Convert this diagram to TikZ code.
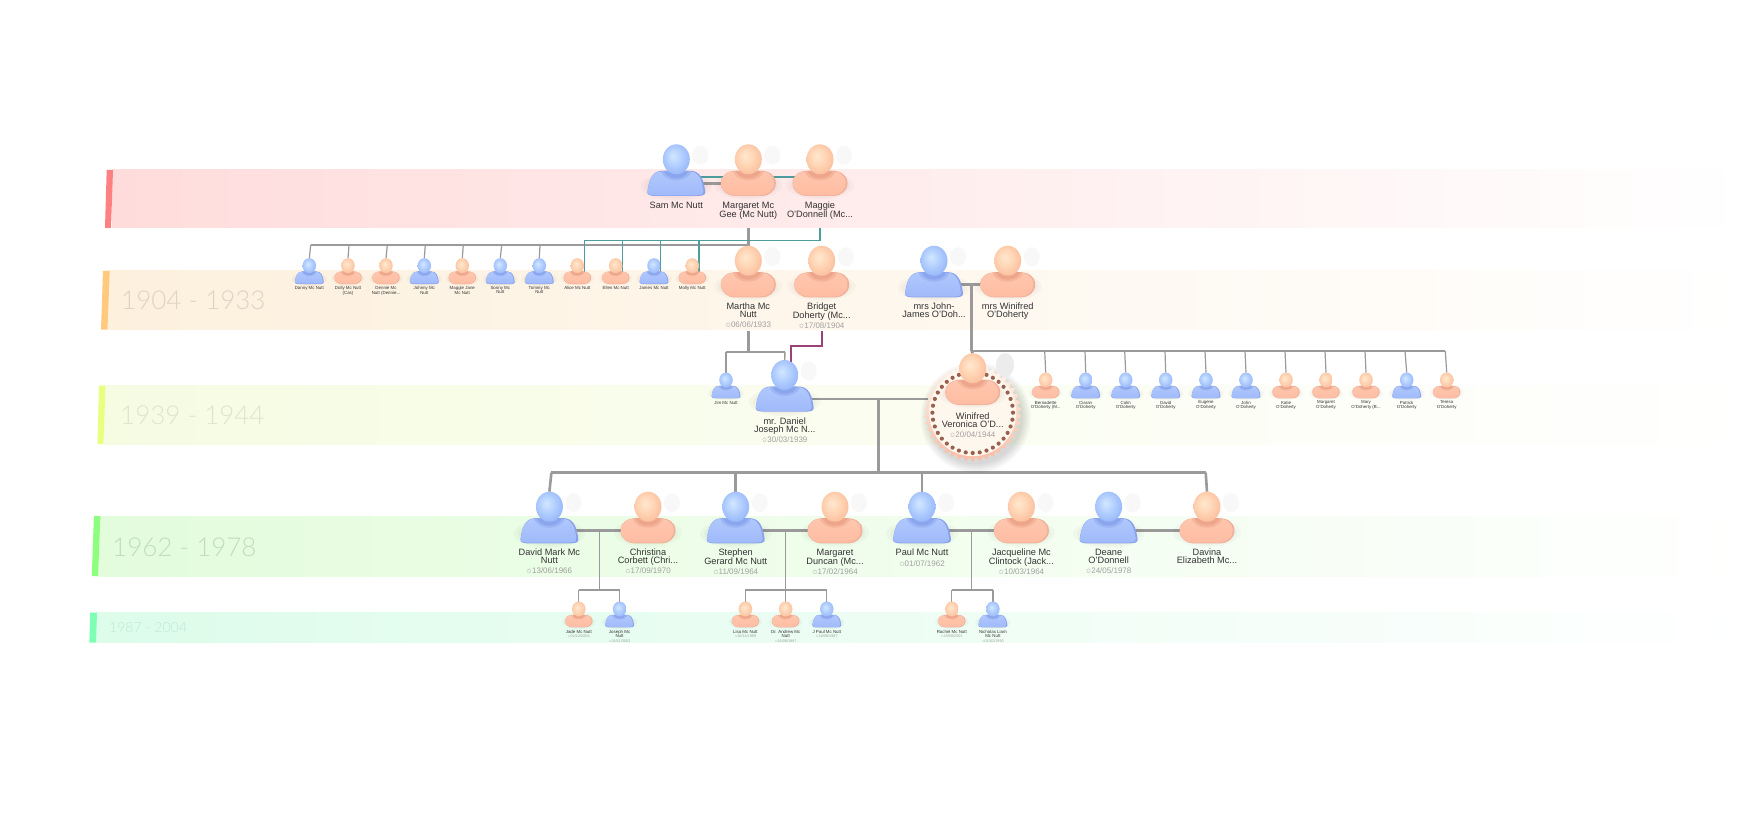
\documentclass[tikz,border=0pt]{standalone}
\usepackage{fontspec}
\usetikzlibrary{shapes.geometric}
\setmainfont{Liberation Sans}
\newfontfamily\symfont{DejaVu Sans}
\newfontfamily\yearfont[UprightFont=* Light]{Lato}
\definecolor{mhin}{HTML}{D2E7FF}\definecolor{mhmid}{HTML}{B4D0FF}\definecolor{mhout}{HTML}{95B5FA}
\definecolor{fhin}{HTML}{FFE8CF}\definecolor{fhmid}{HTML}{FFD6B6}\definecolor{fhout}{HTML}{FBBD9C}
\definecolor{mbdark}{HTML}{8AA2EC}\definecolor{mbtop}{HTML}{B0C8FD}\definecolor{mbbot}{HTML}{A0BAFB}\definecolor{mneck}{HTML}{8CA6EE}
\definecolor{fbdark}{HTML}{F0B099}\definecolor{fbtop}{HTML}{FFC6AE}\definecolor{fbbot}{HTML}{FFBDA3}\definecolor{fneck}{HTML}{EDA68B}
\definecolor{conn}{HTML}{9A9A9A}\definecolor{tealc}{HTML}{4F9C9C}\definecolor{purp}{HTML}{984277}
\definecolor{nametext}{HTML}{333333}\definecolor{datetext}{HTML}{A0A0A0}\definecolor{ghost}{HTML}{F8F8F8}
\definecolor{dotc}{HTML}{98604F}\definecolor{cream}{HTML}{FEF7EE}\definecolor{peach}{HTML}{FBBBA2}
\pgfdeclareradialshading{headm}{\pgfpoint{-6bp}{6bp}}{color(0bp)=(mhin);color(14bp)=(mhmid);color(30bp)=(mhout);color(50bp)=(mhout)}
\pgfdeclareradialshading{headf}{\pgfpoint{-6bp}{6bp}}{color(0bp)=(fhin);color(14bp)=(fhmid);color(30bp)=(fhout);color(50bp)=(fhout)}
\pgfdeclarelayer{bands}\pgfdeclarelayer{links}
\pgfsetlayers{bands,links,main}
\newcommand\bodym{(-29,33) .. controls (-27.5,20) and (-24,11.5) .. (-14,11.5) -- (14,11.5) .. controls (24,11.5) and (27.5,20) .. (29,33) .. controls (29,36) and (25,36.7) .. (22,36.7) -- (-22,36.7) .. controls (-25,36.7) and (-29,36) .. (-29,33) -- cycle}
\newcommand\bodyf{(-27.5,24) .. controls (-27.5,15) and (-20,11.5) .. (-12,11.5) -- (12,11.5) .. controls (20,11.5) and (27.5,15) .. (27.5,24) .. controls (27.5,32) and (20,36.7) .. (14,36.7) -- (-14,36.7) .. controls (-20,36.7) and (-27.5,32) .. (-27.5,24) -- cycle}
\newcommand\malefig{%
  \fill[black,opacity=.025] (0,27) ellipse [x radius=36,y radius=14];
  \fill[black,opacity=.025] (0,27) ellipse [x radius=32,y radius=12];
  \fill[mbdark] \bodym;
  \begin{scope}[shift={(-.8,1.1)},xscale=.96,yscale=.95]
    \shade[top color=mbtop,bottom color=mbbot] \bodym;
  \end{scope}
  \begin{scope}
    \clip \bodym;
    \fill[mneck,opacity=.5] (0,9) ellipse [x radius=16,y radius=12];
    \fill[mneck] (0,9) ellipse [x radius=13,y radius=10];
  \end{scope}
  \shade[shading=headm] (0,0) ellipse [x radius=13.5,y radius=15];
}
\newcommand\femalefig{%
  \fill[black,opacity=.025] (0,26) ellipse [x radius=34,y radius=14];
  \fill[black,opacity=.025] (0,26) ellipse [x radius=30,y radius=12];
  \fill[fbdark] \bodyf;
  \begin{scope}[shift={(-.7,1.1)},xscale=.96,yscale=.95]
    \shade[top color=fbtop,bottom color=fbbot] \bodyf;
  \end{scope}
  \begin{scope}
    \clip \bodyf;
    \fill[fneck,opacity=.5] (0,9) ellipse [x radius=16,y radius=12];
    \fill[fneck] (0,9) ellipse [x radius=13,y radius=10];
  \end{scope}
  \shade[shading=headf] (0,0) ellipse [x radius=13.5,y radius=15];
}
% name, x, y, scale, figure
\newcommand\drawperson[5]{%
  \coordinate (#1) at (#2,#3);
  \coordinate (#1-t) at (#2,{#3-15*#4});
  \coordinate (#1-c) at (#2,{#3+24*#4});
  \begin{scope}[shift={(#2,#3)},x=#4pt,y=-#4pt]
    #5
  \end{scope}
}
\newcommand\BP[6]{% name x y figure text offset
  \fill[ghost] ({#2+24},{#3-4}) ellipse [x radius=8,y radius=9.5];
  \drawperson{#1}{#2}{#3}{1}{#4}
  \node[biglab] (#1-lab) at (#2,{#3+#6}) {#5};
}
\newcommand\SP[5]{% name x y figure text
  \drawperson{#1}{#2}{#3}{.5}{#4}
  \node[smlab] (#1-lab) at (#2,{#3+20.7}) {#5};
}
\newcommand\dateline[1]{{\fontsize{8}{8.5}\selectfont\color{datetext}{\symfont\fontsize{6.5}{8.5}\selectfont ✩}#1}}
\newcommand\sdateline[1]{{\fontsize{3.8}{4.3}\selectfont\color{datetext}{\symfont\fontsize{3.2}{4.3}\selectfont ✩}#1}}
\tikzset{
  biglab/.style={anchor=north,inner sep=0pt,align=center,text=nametext,font=\fontsize{9.2}{8.5}\selectfont},
  smlab/.style={anchor=north,inner sep=0pt,align=center,text=nametext,font=\fontsize{4.4}{4.3}\selectfont},
  gthick/.style={draw=conn,line width=2.6pt},
  gthin/.style={draw=conn,line width=1.2pt},
  teal2/.style={draw=tealc,line width=2pt},
  teal1/.style={draw=tealc,line width=1.2pt},
  purp2/.style={draw=purp,line width=2.4pt},
  yearlab/.style={inner sep=0pt,anchor=west}
}
\begin{document}
\begin{tikzpicture}[x=1pt,y=-1pt]
\useasboundingbox (0,0) rectangle (1748,834);
\begin{pgfonlayer}{bands}
  \fill[white] (0,0) rectangle (1748,834);
  \shade[left color={rgb,255:red,255;green,220;blue,220},right color=white] (112,170) rectangle (1748,228);
  \fill[color={rgb,255:red,255;green,128;blue,128}] (106.7,170) -- (113,170) -- (111,228) -- (105,228) -- cycle;
  \shade[left color={rgb,255:red,253;green,240;blue,221},right color=white] (108,271) rectangle (1748,329.5);
  \fill[color={rgb,255:red,255;green,201;blue,126}] (103,271) -- (109.7,271) -- (107.5,329.5) -- (101,329.5) -- cycle;
  \shade[left color={rgb,255:red,246;green,252;blue,226},right color=white] (104,385.5) rectangle (1748,444);
  \fill[color={rgb,255:red,232;green,255;blue,128}] (99,385.5) -- (105.5,385.5) -- (103.5,444) -- (97.5,444) -- cycle;
  \shade[left color={rgb,255:red,227;green,252;blue,220},right color=white] (98,516) rectangle (1748,576);
  \fill[color={rgb,255:red,141;green,255;blue,126}] (93.9,516) -- (100.4,516) -- (98,576) -- (91.8,576) -- cycle;
  \shade[left color={rgb,255:red,221;green,252;blue,234},right color=white] (96,612.5) rectangle (1748,642.5);
  \fill[color={rgb,255:red,125;green,255;blue,180}] (90.2,612.5) -- (97,612.5) -- (96,642.5) -- (89.4,642.5) -- cycle;
\end{pgfonlayer}
\node[yearlab,text={rgb,255:red,222;green,212;blue,195}] (y1904) at (121,300.7) {\yearfont\fontsize{26}{26}\selectfont 1904 - 1933};
\node[yearlab,text={rgb,255:red,224;green,228;blue,205}] (y1939) at (120,415) {\yearfont\fontsize{26}{26}\selectfont 1939 - 1944};
\node[yearlab,text={rgb,255:red,195;green,221;blue,187}] (y1962) at (112,547) {\yearfont\fontsize{26}{26}\selectfont 1962 - 1978};
\node[yearlab,text={rgb,255:red,192;green,232;blue,212}] (y1987) at (109,627.7) {\yearfont\fontsize{14}{14}\selectfont 1987 - 2004};
% Row 1
\BP{sam}{676.3}{159.3}{\malefig}{Sam Mc Nutt}{42.2}
\BP{mgee}{748.3}{159.3}{\femalefig}{Margaret Mc\\Gee (Mc Nutt)}{42.2}
\BP{maggie}{820}{159.3}{\femalefig}{Maggie\\O'Donnell (Mc...}{42.2}
% Row 2 small
\SP{k1}{309.3}{265.7}{\malefig}{Danny Mc Nutt}
\SP{k2}{348}{265.7}{\femalefig}{Dolly Mc Nutt\\(Cas)}
\SP{k3}{386}{265.7}{\femalefig}{Dennie Mc\\Nutt (Dennie...}
\SP{k4}{424.3}{265.7}{\malefig}{Johnny Mc\\Nutt}
\SP{k5}{462.3}{265.7}{\femalefig}{Maggie Jane\\Mc Nutt}
\SP{k6}{500.3}{265.7}{\malefig}{Sonny Mc\\Nutt}
\SP{k7}{539.3}{265.7}{\malefig}{Tommy Mc\\Nutt}
\SP{k8}{577.3}{265.7}{\femalefig}{Alice Mc Nutt}
\SP{k9}{615.7}{265.7}{\femalefig}{Ellen Mc Nutt}
\SP{k10}{654}{265.7}{\malefig}{James Mc Nutt}
\SP{k11}{692.3}{265.7}{\femalefig}{Molly Mc Nutt}
% Row 2 big
\BP{martha}{748.3}{260.7}{\femalefig}{Martha Mc\\Nutt\\[1.5pt]\dateline{06/06/1933}}{41.8}
\BP{bridget}{821.7}{260.7}{\femalefig}{Bridget\\Doherty (Mc...\\[1.5pt]\dateline{17/08/1904}}{41.8}
\BP{john}{934}{260.7}{\malefig}{mrs John-\\James O'Doh...}{41.8}
\BP{winif}{1007.7}{260.7}{\femalefig}{mrs Winifred\\O'Doherty}{41.8}
% Row 3
\SP{jim}{726}{380}{\malefig}{Jim Mc Nutt}
\BP{daniel}{784.7}{375}{\malefig}{mr. Daniel\\Joseph Mc N...\\[1.5pt]\dateline{30/03/1939}}{42.2}
% Winifred badge
\foreach \r in {47,49,51,53,55}{\fill[black,opacity=.03] (975.7,417.7) circle [radius=\r];}
\node[star,star points=42,star point ratio=1.1,minimum size=98pt,inner sep=0pt,top color=cream,bottom color=peach,draw=none] (badge) at (972.7,412.7) {};
\fill[cream] (badge.center) circle [radius=43.5];
\foreach \a in {0,10,...,350}{\fill[dotc] (badge.center) ++(\a:40.3) circle [radius=2.1];}
\fill[ghost!90!gray] (1005,365) ellipse [x radius=9,y radius=12];
\drawperson{winv}{972.7}{368.3}{1}{\femalefig}
\node[biglab] (winv-lab) at (972.7,412.2) {Winifred\\Veronica O'D...\\[1.5pt]\dateline{20/04/1944}};
% O'Doherty children
\SP{d1}{1045.7}{380}{\femalefig}{Bernadette\\O'Doherty (M...}
\SP{d2}{1085.7}{380}{\malefig}{Ciaran\\O'Doherty}
\SP{d3}{1125.7}{380}{\malefig}{Colm\\O'Doherty}
\SP{d4}{1165.7}{380}{\malefig}{David\\O'Doherty}
\SP{d5}{1206}{380}{\malefig}{Eugene\\O'Doherty}
\SP{d6}{1246}{380}{\malefig}{John\\O'Doherty}
\SP{d7}{1286}{380}{\femalefig}{Katie\\O'Doherty}
\SP{d8}{1326}{380}{\femalefig}{Margaret\\O'Doherty}
\SP{d9}{1366}{380}{\femalefig}{Mary\\O'Doherty (B...}
\SP{d10}{1406.7}{380}{\malefig}{Patrick\\O'Doherty}
\SP{d11}{1446.7}{380}{\femalefig}{Teresa\\O'Doherty}
% Row 4
\BP{david}{549.4}{506.7}{\malefig}{David Mark Mc\\Nutt\\[1.5pt]\dateline{13/06/1966}}{41.8}
\BP{christina}{648}{506.7}{\femalefig}{Christina\\Corbett (Chri...\\[1.5pt]\dateline{17/09/1970}}{41.8}
\BP{stephen}{735.7}{506.7}{\malefig}{Stephen\\Gerard Mc Nutt\\[1.5pt]\dateline{11/09/1964}}{41.8}
\BP{mduncan}{835}{506.7}{\femalefig}{Margaret\\Duncan (Mc...\\[1.5pt]\dateline{17/02/1964}}{41.8}
\BP{paul}{922}{506.7}{\malefig}{Paul Mc Nutt\\[2.5pt]\dateline{01/07/1962}}{41.8}
\BP{jacq}{1021.4}{506.7}{\femalefig}{Jacqueline Mc\\Clintock (Jack...\\[1.5pt]\dateline{10/03/1964}}{41.8}
\BP{deane}{1108.6}{506.7}{\malefig}{Deane\\O'Donnell\\[1.5pt]\dateline{24/05/1978}}{41.8}
\BP{davina}{1207}{506.7}{\femalefig}{Davina\\Elizabeth Mc...}{41.8}
% Row 5
\SP{jade}{578.8}{609}{\femalefig}{Jade Mc Nutt\\[.5pt]\sdateline{01/12/2004}}
\SP{joseph}{619.6}{609}{\malefig}{Joseph Mc\\Nutt\\[.5pt]\sdateline{24/11/2003}}
\SP{lisa}{745.4}{609}{\femalefig}{Lisa Mc Nutt\\[.5pt]\sdateline{20/11/1989}}
\SP{andrew}{785.7}{609}{\femalefig}{Dr. Andrew Mc\\Nutt\\[.5pt]\sdateline{16/08/1987}}
\SP{jpaul}{826.8}{609}{\malefig}{J Paul Mc Nutt\\[.5pt]\sdateline{16/08/1987}}
\SP{rachel}{951.8}{609}{\femalefig}{Rachel Mc Nutt\\[.5pt]\sdateline{25/08/2001}}
\SP{nick}{992.9}{609}{\malefig}{Nicholas Liam\\Mc Nutt\\[.5pt]\sdateline{01/02/1990}}
% Junction coordinates
\coordinate (mgDrop) at (748.3,228);
\coordinate (barL) at (310.7,245);
\coordinate (barM) at (748.3,245);
\coordinate (tealTop) at (820,228);
\coordinate (tealCorner) at (820,240.3);
\coordinate (tealL) at (584.3,240.3);
\coordinate (tealA) at (584.3,272);\coordinate (tealAt) at (584.3,240.3);
\coordinate (tealB) at (622.7,272);\coordinate (tealBt) at (622.7,240.3);
\coordinate (tealC) at (660.7,272);\coordinate (tealCt) at (660.7,240.3);
\coordinate (tealD) at (699,272);\coordinate (tealDt) at (699,240.3);
\coordinate (samTeal) at (676.3,177.3);
\coordinate (maggieTeal) at (820,177.3);
\coordinate (mDrop) at (748.3,331);
\coordinate (mBar) at (748.3,351.7);
\coordinate (mBarL) at (726,351.7);
\coordinate (mBarR) at (785,351.7);
\coordinate (bDrop) at (821.7,331);
\coordinate (bC1) at (821.7,345.7);
\coordinate (bC2) at (790.7,345.7);
\coordinate (bC3) at (790.7,366);
\coordinate (oCouple) at (971.5,284.3);
\coordinate (oBar) at (971.5,351);
\coordinate (oBarR) at (1445.3,351);
\coordinate (trunkT) at (878.5,399.3);
\coordinate (trunkB) at (878.5,472.7);
\coordinate (hL) at (551.4,472.7);
\coordinate (hR) at (1205.7,472.7);
\coordinate (w1) at (599.6,530);\coordinate (w1b) at (599.6,590);
\coordinate (w1L) at (578.8,590);\coordinate (w1R) at (619.6,590);
\coordinate (w2) at (785.7,530);\coordinate (w2b) at (785.7,590);
\coordinate (w2L) at (745.4,590);\coordinate (w2R) at (826.8,590);
\coordinate (w3) at (971.8,530);\coordinate (w3b) at (971.8,590);
\coordinate (w3L) at (951.8,590);\coordinate (w3R) at (992.9,590);
\begin{pgfonlayer}{links}
  \draw[gthick] (sam-c) -- (mgee-c);
  \draw[teal2] (samTeal) -- (maggieTeal);
  \draw[gthick] (mgDrop) -- (martha-t);
  \draw[gthick] (barL) -- (barM);
  \draw[gthin] (barL) -- (k1-t);
  \foreach \n/\x in {k2/349,k3/387.3,k4/425.3,k5/463.3,k6/501.7,k7/540}{
    \coordinate (top\n) at (\x,245);
    \draw[gthin] (top\n) -- (\n-t);
  }
  \draw[teal1] (tealTop) -- (tealCorner) -- (tealL);
  \draw[teal1] (tealAt) -- (tealA);
  \draw[teal1] (tealBt) -- (tealB);
  \draw[teal1] (tealCt) -- (tealC);
  \draw[teal1] (tealDt) -- (tealD);
  \draw[gthick] (john-c) -- (winif-c);
  \draw[gthick] (oCouple) -- (oBar);
  \draw[gthick] (oBar) -- (winv-t);
  \draw[gthin] (oBar) -- (oBarR);
  \foreach \n/\x in {d1/1044.7,d2/1085,d3/1124.7,d4/1165,d5/1205,d6/1245,d7/1285,d8/1325,d9/1365,d10/1405,d11/1445.3}{
    \coordinate (top\n) at (\x,351);
    \draw[gthin] (top\n) -- (\n-t);
  }
  \draw[gthick] (mDrop) -- (mBar);
  \draw[gthin,line width=1.6pt] (mBarL) -- (mBarR);
  \draw[gthin,line width=1.4pt] (mBarL) -- (jim-t);
  \draw[gthin,line width=1.4pt] (mBarR) -- (daniel-t);
  \draw[purp2] (bDrop) -- (bC1) -- (bC2) -- (bC3);
  \draw[gthick] (daniel-c) -- (badge.west |- daniel-c);
  \draw[gthick] (trunkT) -- (trunkB);
  \draw[gthick] (hL) -- (hR);
  \draw[gthick] (hL) -- (david-t);
  \draw[gthick] (stephen-t |- hL) -- (stephen-t);
  \draw[gthick] (paul-t |- hL) -- (paul-t);
  \draw[gthick] (hR) -- (davina-t);
  \draw[gthick] (david-c) -- (christina-c);
  \draw[gthick] (stephen-c) -- (mduncan-c);
  \draw[gthick] (paul-c) -- (jacq-c);
  \draw[gthick] (deane-c) -- (davina-c);
  \draw[gthin] (w1) -- (w1b);
  \draw[gthin] (w1L) -- (w1R);
  \draw[gthin] (w1L) -- (jade-t);
  \draw[gthin] (w1R) -- (joseph-t);
  \draw[gthin] (w2) -- (w2b);
  \draw[gthin] (w2L) -- (w2R);
  \draw[gthin] (w2L) -- (lisa-t);
  \draw[gthin] (w2b) -- (andrew-t);
  \draw[gthin] (w2R) -- (jpaul-t);
  \draw[gthin] (w3) -- (w3b);
  \draw[gthin] (w3L) -- (w3R);
  \draw[gthin] (w3L) -- (rachel-t);
  \draw[gthin] (w3R) -- (nick-t);
\end{pgfonlayer}
\end{tikzpicture}
\end{document}
